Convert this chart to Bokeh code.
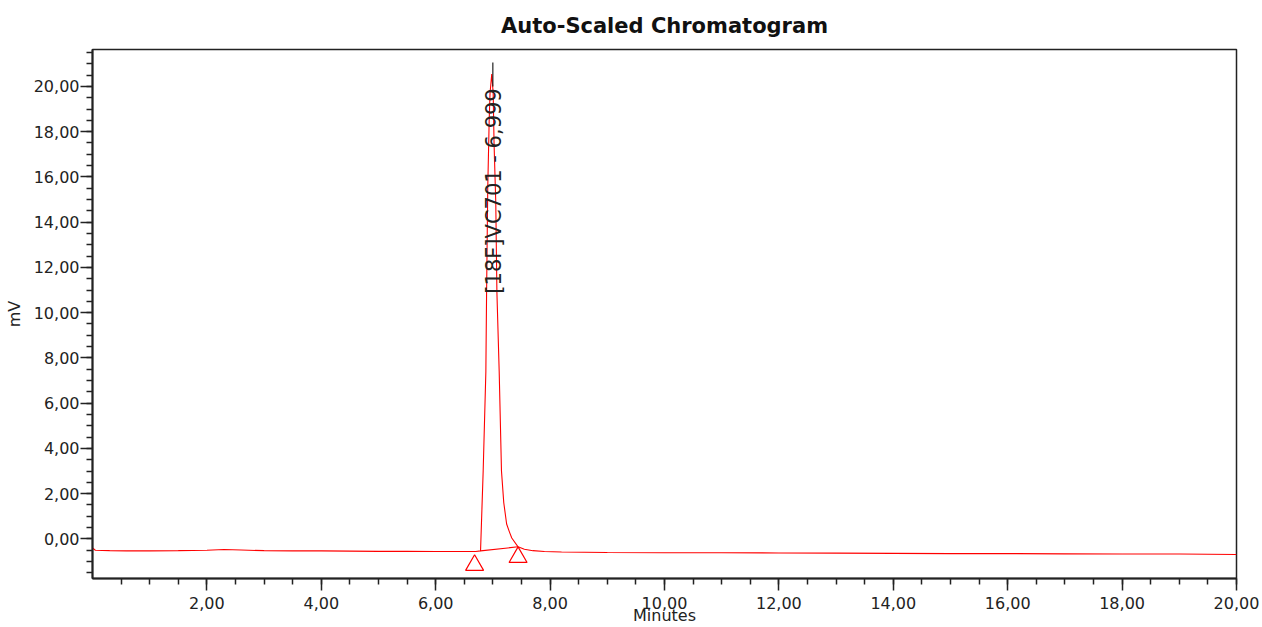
import numpy as np
from bokeh.plotting import figure
from bokeh.models import Range1d, FixedTicker, CustomJSTickFormatter, Label, ColumnDataSource
from bokeh.embed import file_html
from bokeh.resources import INLINE

# ---- data ----
time_min = [0.00, 0.05, 0.30, 0.60, 1.00, 1.50, 2.00, 2.30, 2.60, 3.00, 3.50, 4.00,
            4.50, 5.00, 5.50, 6.00, 6.50, 6.70, 6.784, 6.83, 6.877, 6.89, 6.91, 6.935,
            6.95, 6.98, 7.005, 7.02, 7.05, 7.07, 7.11, 7.15, 7.19, 7.24, 7.29, 7.33,
            7.44, 7.55, 7.70, 7.90, 8.20, 8.60, 9.00, 10.00, 11.00, 12.00, 13.00,
            14.00, 15.00, 16.00, 17.00, 18.00, 19.00, 20.00]
signal_mv = [-0.40, -0.50, -0.52, -0.53, -0.53, -0.52, -0.50, -0.47, -0.49, -0.52, -0.53, -0.53,
             -0.54, -0.55, -0.55, -0.56, -0.56, -0.56, -0.53, 3.0, 7.4, 11.0, 15.5, 18.5,
             19.7, 20.55, 19.7, 17.5, 14.9, 10.9, 7.4, 3.0, 1.6, 0.66, 0.30, 0.04,
             -0.35, -0.46, -0.52, -0.56, -0.58, -0.59, -0.60, -0.61, -0.61, -0.62, -0.63,
             -0.64, -0.65, -0.65, -0.66, -0.67, -0.67, -0.69]

peak_name = "[18F]VC701"
peak_rt = 6.999
peak_apex_marker = [20.0, 21.05]
peak_label_y = 10.84

integ_time = [6.784, 7.44]
integ_base = [-0.53, -0.35]
tri_time = [6.68, 7.44]
tri_mv = [-1.16, -0.81]

x_major = [2, 4, 6, 8, 10, 12, 14, 16, 18, 20]
x_minor = [i * 0.5 for i in range(1, 41)]
y_major = [0, 2, 4, 6, 8, 10, 12, 14, 16, 18, 20]
y_minor = [-1.5 + i * 0.5 for i in range(0, 47)]

title_text = "Auto-Scaled Chromatogram"
x_label = "Minutes"
y_label = "mV"

FONT = "DejaVu Sans"

p = figure(width=1260, height=627, output_backend="svg", toolbar_location=None,
           x_range=Range1d(0, 20), y_range=Range1d(-1.75, 21.63),
           min_border_left=92, min_border_right=24, min_border_top=47, min_border_bottom=49,
           title=title_text)
p.background_fill_color = "white"
p.border_fill_color = "white"
p.outline_line_color = "#222222"
p.outline_line_width = 1.5
p.xgrid.visible = False
p.ygrid.visible = False

p.title.align = "center"
p.title.text_font = FONT
p.title.text_font_size = "21px"
p.title.text_font_style = "bold"
p.title.text_color = "#111111"
p.title.standoff = 23

fmt = CustomJSTickFormatter(code="return tick.toFixed(2).replace('.', ',');")

for ax in (p.xaxis[0], p.yaxis[0]):
    ax.formatter = fmt
    ax.axis_line_color = "#222222"
    ax.axis_line_width = 2
    ax.major_tick_line_color = "#222222"
    ax.minor_tick_line_color = "#222222"
    ax.major_tick_line_width = 1.5
    ax.minor_tick_line_width = 1.5
    ax.major_tick_in = 0
    ax.minor_tick_in = 0
    ax.major_tick_out = 12
    ax.minor_tick_out = 6
    ax.major_label_text_font = FONT
    ax.major_label_text_font_size = "16px"
    ax.major_label_text_color = "#222222"
    ax.axis_label_text_font = FONT
    ax.axis_label_text_font_size = "16px"
    ax.axis_label_text_font_style = "normal"
    ax.axis_label_text_color = "#222222"

p.xaxis[0].ticker = FixedTicker(ticks=x_major, minor_ticks=x_minor)
p.yaxis[0].ticker = FixedTicker(ticks=y_major, minor_ticks=y_minor)
p.xaxis[0].major_label_standoff = 6
p.yaxis[0].major_label_standoff = 1
p.xaxis[0].axis_label = x_label
p.yaxis[0].axis_label = y_label
p.xaxis[0].axis_label_standoff = -6
p.yaxis[0].axis_label_standoff = 7

src = ColumnDataSource(dict(t=time_min, s=signal_mv))
p.line("t", "s", source=src, line_color="#FF0000", line_width=1.1)
p.line(integ_time, integ_base, line_color="#FF0000", line_width=1.1)
p.scatter(tri_time, tri_mv, marker="triangle", size=18, fill_color=None,
          line_color="#FF0000", line_width=1.2)
p.line([peak_rt, peak_rt], peak_apex_marker, line_color="#222222", line_width=1.2)

p.add_layout(Label(x=peak_rt + 0.015, y=peak_label_y,
                   text=f"{peak_name} - {peak_rt:.3f}".replace('.', ','),
                   angle=np.pi / 2, text_align="left", text_baseline="middle",
                   text_font=FONT, text_font_size="21px", text_color="#222222"))

open("out.html", "w").write(file_html(p, INLINE))
